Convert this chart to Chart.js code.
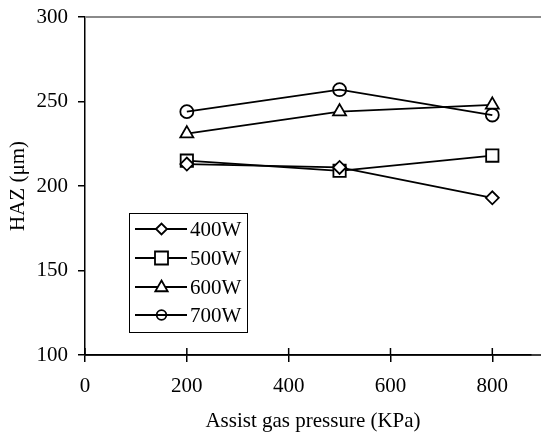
<!DOCTYPE html>
<html>
<head>
<meta charset="utf-8">
<script src="https://cdn.jsdelivr.net/npm/chart.js@4.4.0/dist/chart.umd.min.js"></script>
<style>
  html, body { margin: 0; padding: 0; background: #fff; }
  #wrap { width: 541px; height: 437px; }
</style>
</head>
<body>
<div id="wrap"><canvas id="haz" width="541" height="437"></canvas></div>
<script>
(function () {
    "use strict";

    // Assist gas pressure (KPa)
    const pressure = [200, 500, 800];

    // HAZ (um) for each laser power
    const haz400 = [213, 211, 193];
    const haz500 = [215, 209, 218];
    const haz600 = [231, 244, 248];
    const haz700 = [244, 257, 242];

    const seriesNames = ['400W', '500W', '600W', '700W'];
    const xTicks = [0, 200, 400, 600, 800];
    const yTicks = [100, 150, 200, 250, 300];

    const serif = '"Liberation Serif", "Times New Roman", serif';
    Chart.defaults.font.family = serif;
    Chart.defaults.font.size = 21;
    Chart.defaults.color = '#000';

    const toPoints = vals => vals.map((v, i) => ({ x: pressure[i], y: v }));

    // marker looks, same order as seriesNames
    const markers = [
        { style: 'rectRot', r: 6.5, fill: '#fff', lr: 5.5 },
        { style: 'rect', r: 8.7, fill: '#fff', lr: 6.5 },
        { style: 'triangle', r: 7.5, fill: '#fff', lr: 6.5 },
        { style: 'circle', r: 6.5, fill: 'rgba(0,0,0,0)', lr: 4.8 }
    ];

    const datasets = [haz400, haz500, haz600, haz700].map((vals, i) => ({
        label: seriesNames[i],
        data: toPoints(vals),
        borderColor: '#000',
        borderWidth: 1.8,
        pointStyle: markers[i].style,
        pointRadius: markers[i].r,
        pointBackgroundColor: markers[i].fill,
        pointBorderColor: '#000',
        pointBorderWidth: 1.8,
        tension: 0
    }));

    // small marker drawer for the legend box
    function marker(ctx, style, x, y, r) {
        ctx.beginPath();
        if (style === 'rectRot') {
            ctx.moveTo(x - r, y); ctx.lineTo(x, y - r);
            ctx.lineTo(x + r, y); ctx.lineTo(x, y + r);
            ctx.closePath();
        } else if (style === 'rect') {
            ctx.rect(x - r, y - r, 2 * r, 2 * r);
        } else if (style === 'triangle') {
            ctx.moveTo(x, y - r);
            ctx.lineTo(x + r * 0.95, y + r * 0.65);
            ctx.lineTo(x - r * 0.95, y + r * 0.65);
            ctx.closePath();
        } else {
            ctx.arc(x, y, r, 0, Math.PI * 2);
        }
    }

    // Frame bits, axis titles and the boxed legend
    const decor = {
        id: 'decor',
        afterDraw(chart) {
            const ctx = chart.ctx;
            const area = chart.chartArea;
            const xs = chart.scales.x;
            ctx.save();

            // grey top border
            ctx.strokeStyle = '#8a8a8a';
            ctx.lineWidth = 2;
            ctx.beginPath();
            ctx.moveTo(area.left, area.top);
            ctx.lineTo(chart.width, area.top);
            ctx.stroke();

            // x axis runs on to the right edge
            ctx.strokeStyle = '#000';
            ctx.lineWidth = 1.5;
            ctx.beginPath();
            ctx.moveTo(area.left, area.bottom);
            ctx.lineTo(chart.width, area.bottom);
            ctx.stroke();

            // inward half of the x ticks
            xTicks.forEach(v => {
                const px = xs.getPixelForValue(v);
                ctx.beginPath();
                ctx.moveTo(px, area.bottom);
                ctx.lineTo(px, area.bottom - 7);
                ctx.stroke();
            });

            // axis titles
            ctx.fillStyle = '#000';
            ctx.font = '21px ' + serif;
            ctx.textAlign = 'center';
            ctx.textBaseline = 'middle';
            ctx.fillText('Assist gas pressure (KPa)', 313, 421);
            ctx.save();
            ctx.translate(18, (area.top + area.bottom) / 2);
            ctx.rotate(-Math.PI / 2);
            ctx.fillText('HAZ (\u03bcm)', 0, 0);
            ctx.restore();

            // legend
            const bx = 129, by = 213, bw = 118, bh = 119;
            const rows = [229, 258, 287, 315];
            ctx.fillStyle = '#fff';
            ctx.fillRect(bx, by, bw, bh);
            ctx.strokeStyle = '#000';
            ctx.lineWidth = 1;
            ctx.strokeRect(bx + 0.5, by + 0.5, bw, bh);
            ctx.textAlign = 'left';
            seriesNames.forEach((name, i) => {
                const y = rows[i];
                ctx.strokeStyle = '#000';
                ctx.lineWidth = 1.8;
                ctx.beginPath();
                ctx.moveTo(135, y);
                ctx.lineTo(187, y);
                ctx.stroke();
                marker(ctx, markers[i].style, 161.5, y, markers[i].lr);
                ctx.fillStyle = markers[i].fill;
                ctx.fill();
                ctx.stroke();
                ctx.fillStyle = '#000';
                ctx.fillText(name, 190, y + 1);
            });

            ctx.restore();
        }
    };

    new Chart(document.getElementById('haz'), {
        type: 'line',
        data: { datasets: datasets },
        options: {
            responsive: false,
            animation: false,
            layout: { padding: { top: 17, right: 0, left: 0, bottom: 0 } },
            plugins: { legend: { display: false }, tooltip: { enabled: false } },
            scales: {
                x: {
                    type: 'linear',
                    min: 0,
                    max: 875,
                    bounds: 'data',
                    afterBuildTicks: s => { s.ticks = xTicks.map(v => ({ value: v })); },
                    afterFit: s => { s.height = 82; s.paddingLeft = 0; s.paddingRight = 0; },
                    ticks: { padding: 12, maxRotation: 0, autoSkip: false },
                    grid: { drawOnChartArea: false, tickLength: 7, color: '#000', lineWidth: 1.5 },
                    border: { display: true, color: '#000', width: 1.5 }
                },
                y: {
                    min: 100,
                    max: 300,
                    bounds: 'data',
                    afterBuildTicks: s => { s.ticks = yTicks.map(v => ({ value: v })); },
                    afterFit: s => { s.width = 85; s.paddingTop = 0; s.paddingBottom = 0; },
                    ticks: { padding: 10 },
                    grid: { drawOnChartArea: false, tickLength: 7, color: '#000', lineWidth: 1.5 },
                    border: { display: true, color: '#000', width: 1.5 }
                }
            }
        },
        plugins: [decor]
    });
})();
</script>
</body>
</html>
